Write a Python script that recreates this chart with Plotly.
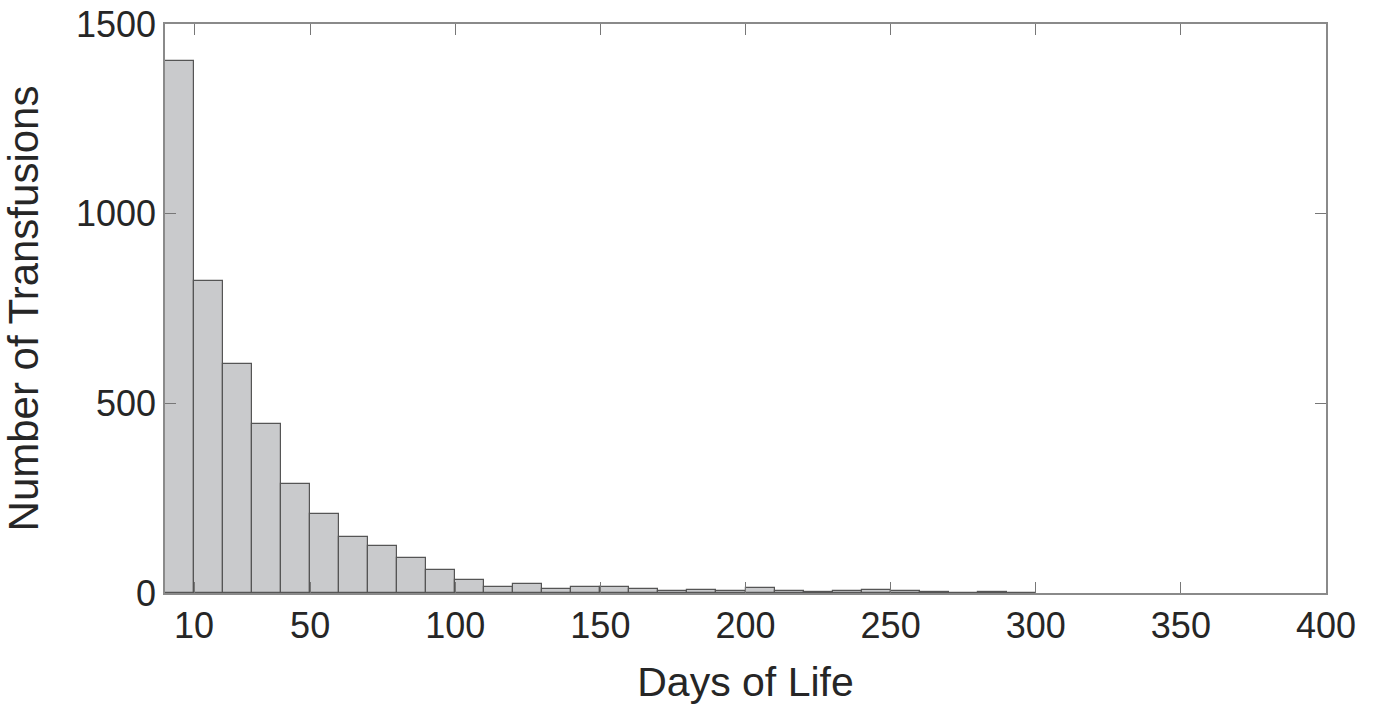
import plotly.graph_objects as go

bin_left = [0, 10, 20, 30, 40, 50, 60, 70, 80, 90, 100, 110, 120, 130, 140,
            150, 160, 170, 180, 190, 200, 210, 220, 230, 240, 250, 260, 270, 280, 290]
counts = [1403, 823, 604, 445, 287, 208, 147, 125, 91, 61, 34, 17, 24, 11, 17,
          16, 11, 4, 7, 6, 12, 4, 2, 6, 8, 4, 2, 1, 2, 1]
x_ticks = [10, 50, 100, 150, 200, 250, 300, 350, 400]
y_ticks = [0, 500, 1000, 1500]

fig = go.Figure()
fig.add_trace(go.Bar(
    x=bin_left, y=counts, width=10, offset=0,
    marker=dict(color="#c9cacc", line=dict(color="#555555", width=1.2)),
    showlegend=False,
))

font_family = "Liberation Sans, Arial, Helvetica, sans-serif"
fig.update_layout(
    width=1379, height=711,
    margin=dict(l=165, r=53, t=24, b=118),
    paper_bgcolor="white", plot_bgcolor="white",
    font=dict(family=font_family, color="#262626"),
    bargap=0,
)
fig.update_xaxes(
    automargin=False, ticklabeloverflow="allow",
    range=[0, 400], tickvals=x_ticks, ticktext=[str(v) for v in x_ticks],
    ticks="inside", ticklen=11, tickwidth=1.3, tickcolor="#777777",
    showline=True, linecolor="#8a8a8a", linewidth=1.5, mirror="ticks",
    showgrid=False, zeroline=False,
    tickfont=dict(size=36, color="#262626"),
    title=dict(text="Days of Life", font=dict(size=41, color="#262626"), standoff=22),
)
fig.update_yaxes(
    automargin=False, ticklabeloverflow="allow",
    range=[0, 1500], tickvals=y_ticks,
    ticks="inside", ticklen=11, tickwidth=1.3, tickcolor="#777777",
    showline=True, linecolor="#8a8a8a", linewidth=1.5, mirror="ticks",
    showgrid=False, zeroline=False,
    tickfont=dict(size=36, color="#262626"),
    title=dict(text="Number of Transfusions", font=dict(size=42, color="#262626"), standoff=27),
)

fig.write_html("out.html", config={"displayModeBar": False},
               post_script="document.body.style.margin='0';")
